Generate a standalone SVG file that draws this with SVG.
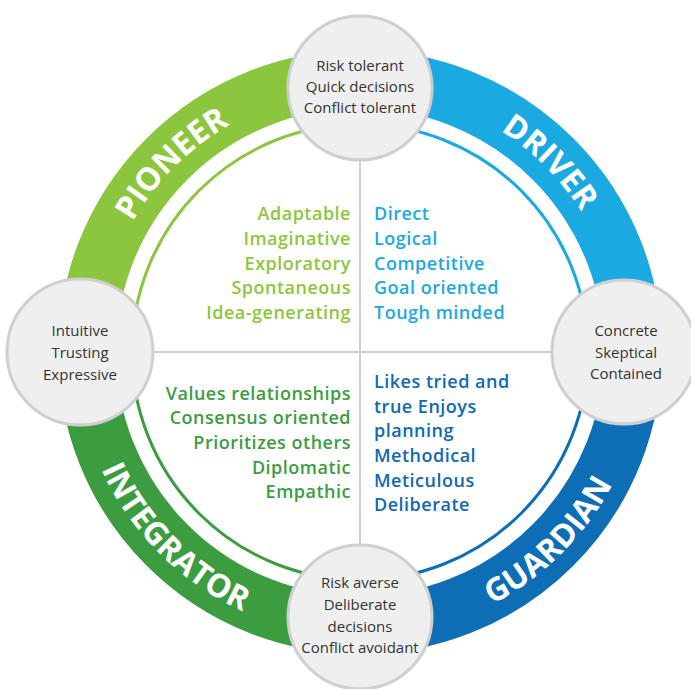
<svg xmlns="http://www.w3.org/2000/svg" xmlns:xlink="http://www.w3.org/1999/xlink" width="691" height="689" viewBox="0 0 691 689">
<style>
.band{fill:none;stroke-width:58}
.thin{fill:none;stroke-width:3}
.lbl{font-family:"Open Sans","Liberation Sans",sans-serif;font-weight:700;font-size:32px;fill:#fff}
.node circle{fill:#efefef;stroke:#cfcfcf;stroke-width:3}
.node text{font-family:"Open Sans","Liberation Sans",sans-serif;font-size:15px;fill:#333;text-anchor:middle}
.q{font-family:"Open Sans","Liberation Sans",sans-serif;font-size:18px;font-weight:600;letter-spacing:0.5px}
.r{text-anchor:end}
.cross{stroke:#d0d0d0;stroke-width:2}
</style>
<defs>
<path id="pP" d="M98,352 A262,262 0 0 1 360,90"/>
<path id="pD" d="M360,90 A262,262 0 0 1 622,352"/>
<path id="pI" d="M76,352 A285,285 0 0 0 360,637"/>
<path id="pG" d="M360,637 A285,285 0 0 0 645,352"/>
</defs>
<rect width="691" height="689" fill="#fff"/>
<g id="connectors">
<line class="cross" x1="360" y1="160" x2="360" y2="545"/>
<line class="cross" x1="152" y1="352" x2="552" y2="352"/>
</g>
<g id="pioneer">
<path class="band" stroke="#8cc63e" d="M87,352 A273,273 0 0 1 360,79"/>
<path class="thin" stroke="#8cc63e" d="M132,352 A228,228 0 0 1 360,124"/>
<text class="lbl"><textPath xlink:href="#pP" startOffset="50%" text-anchor="middle">PIONEER</textPath></text>
<g class="q r" fill="#8cc63e">
<text x="351" y="220">Adaptable</text>
<text x="351" y="245">Imaginative</text>
<text x="351" y="270">Exploratory</text>
<text x="351" y="294">Spontaneous</text>
<text x="351" y="319">Idea-generating</text>
</g>
</g>
<g id="driver">
<path class="band" stroke="#1ba9e1" d="M360,79 A273,273 0 0 1 633,352"/>
<path class="thin" stroke="#1ba9e1" d="M360,124 A228,228 0 0 1 588,352"/>
<text class="lbl"><textPath xlink:href="#pD" startOffset="50%" text-anchor="middle">DRIVER</textPath></text>
<g class="q" fill="#1ba9e1">
<text x="374" y="220">Direct</text>
<text x="374" y="245">Logical</text>
<text x="374" y="270">Competitive</text>
<text x="374" y="294">Goal oriented</text>
<text x="374" y="319">Tough minded</text>
</g>
</g>
<g id="integrator">
<path class="band" stroke="#3c9c40" d="M87,352 A273,273 0 0 0 360,625"/>
<path class="thin" stroke="#3c9c40" d="M132,352 A228,228 0 0 0 360,580"/>
<text class="lbl"><textPath xlink:href="#pI" startOffset="50%" text-anchor="middle">INTEGRATOR</textPath></text>
<g class="q r" fill="#3c9c40">
<text x="351" y="400">Values relationships</text>
<text x="351" y="424">Consensus oriented</text>
<text x="351" y="449">Prioritizes others</text>
<text x="351" y="474">Diplomatic</text>
<text x="351" y="498">Empathic</text>
</g>
</g>
<g id="guardian">
<path class="band" stroke="#0d6eb5" d="M360,625 A273,273 0 0 0 633,352"/>
<path class="thin" stroke="#0d6eb5" d="M360,580 A228,228 0 0 0 588,352"/>
<text class="lbl"><textPath xlink:href="#pG" startOffset="50%" text-anchor="middle">GUARDIAN</textPath></text>
<g class="q" fill="#1069b1">
<text x="374" y="388">Likes tried and</text>
<text x="374" y="413">true Enjoys</text>
<text x="374" y="437">planning</text>
<text x="374" y="462">Methodical</text>
<text x="374" y="487">Meticulous</text>
<text x="374" y="511">Deliberate</text>
</g>
</g>
<g id="node-top" class="node">
<circle cx="360" cy="88" r="72"/>
<text x="360" y="71">Risk tolerant</text>
<text x="360" y="92">Quick decisions</text>
<text x="360" y="113">Conflict tolerant</text>
</g>
<g id="node-left" class="node">
<circle cx="80" cy="352" r="73"/>
<text x="80" y="336">Intuitive</text>
<text x="80" y="358">Trusting</text>
<text x="80" y="380">Expressive</text>
</g>
<g id="node-right" class="node">
<circle cx="624" cy="352" r="72"/>
<text x="626" y="336">Concrete</text>
<text x="626" y="358">Skeptical</text>
<text x="626" y="379">Contained</text>
</g>
<g id="node-bottom" class="node">
<circle cx="360" cy="617" r="72"/>
<text x="360" y="588">Risk averse</text>
<text x="360" y="610">Deliberate</text>
<text x="360" y="632">decisions</text>
<text x="360" y="653">Conflict avoidant</text>
</g>
</svg>
